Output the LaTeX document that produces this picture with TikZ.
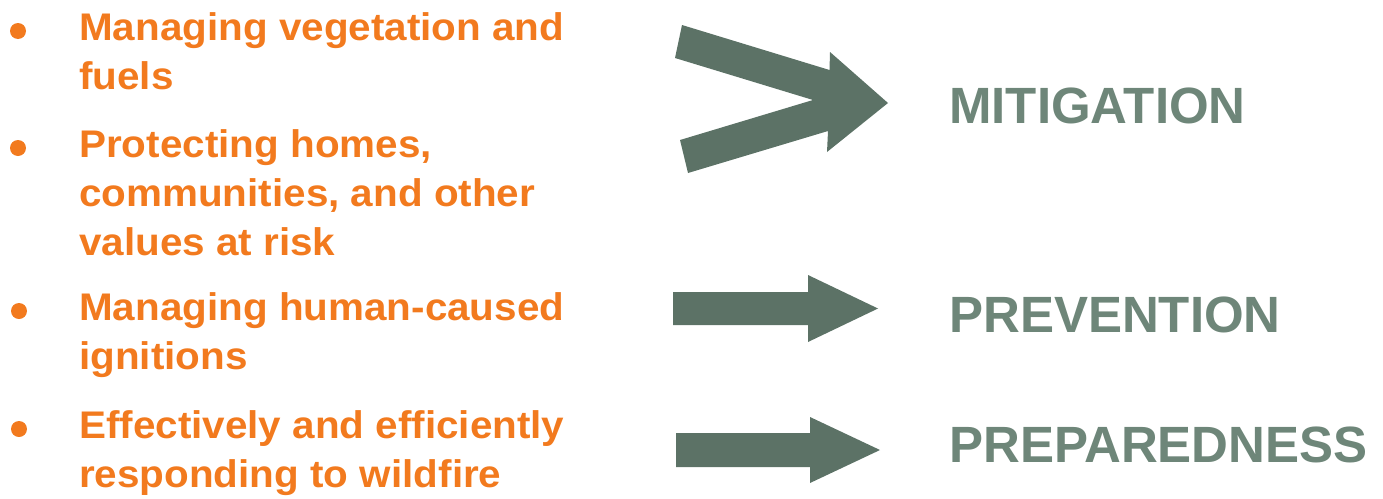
\documentclass[tikz,border=0pt]{standalone}
\usepackage{fontspec}
\newfontfamily\leftfam{Liberation Sans}[FakeStretch=1.05]
\newfontfamily\rightfam{Liberation Sans}
\definecolor{firorange}{RGB}{242,122,30}
\definecolor{arrowgreen}{RGB}{92,114,102}
\definecolor{labelgreen}{RGB}{110,134,121}
\tikzset{
  itemtext/.style={anchor=base west, inner sep=0pt, text=firorange,
    font=\leftfam\bfseries\fontsize{38.5}{46}\selectfont},
  bulletdot/.style={circle, fill=firorange, inner sep=0pt, minimum size=16pt},
  phase/.style={anchor=base west, inner sep=0pt, text=labelgreen,
    font=\rightfam\bfseries\fontsize{51}{60}\selectfont},
  blockarrow/.style={fill=arrowgreen, draw=none}
}
\begin{document}
\begin{tikzpicture}[x=1pt,y=-1pt]
\useasboundingbox (0,0) rectangle (1383,498);
% bullets
\node[bulletdot] (b1) at (18,31) {};
\node[bulletdot] (b2) at (18,148) {};
\node[bulletdot] (b3) at (19,311) {};
\node[bulletdot] (b4) at (19,429) {};
% left items
\node[itemtext] (i1a) at (79,40) {Managing vegetation and};
\node[itemtext] (i1b) at (79,89) {fuels};
\node[itemtext] (i2a) at (79,157) {Protecting homes,};
\node[itemtext] (i2b) at (79,206) {communities, and other};
\node[itemtext] (i2c) at (79,255) {values at risk};
\node[itemtext] (i3a) at (79,320) {Managing human-caused};
\node[itemtext] (i3b) at (79,369) {ignitions};
\node[itemtext] (i4a) at (79,438) {Effectively and efficiently};
\node[itemtext] (i4b) at (79,487) {responding to wildfire};
% right labels
\node[phase] (mit) at (949,123) {MITIGATION};
\node[phase] (prev) at (949,332) {PREVENTION};
\node[phase] (prep) at (949,462) {PREPAREDNESS};
% merging arrow
\fill[blockarrow] (682,25) -- (829.5,70) -- (830,52) -- (888,103) -- (827,152)
  -- (828,131) -- (688,173) -- (680,140) -- (813,100) -- (675,58) -- cycle;
% straight arrows
\fill[blockarrow] (673,292) -- (808,292) -- (808,275) -- (878,308.5) -- (808,342)
  -- (808,325) -- (673,325) -- cycle;
\fill[blockarrow] (676,433) -- (810,433) -- (810,417) -- (880,450) -- (810,483)
  -- (810,467) -- (676,467) -- cycle;
\end{tikzpicture}
\end{document}
